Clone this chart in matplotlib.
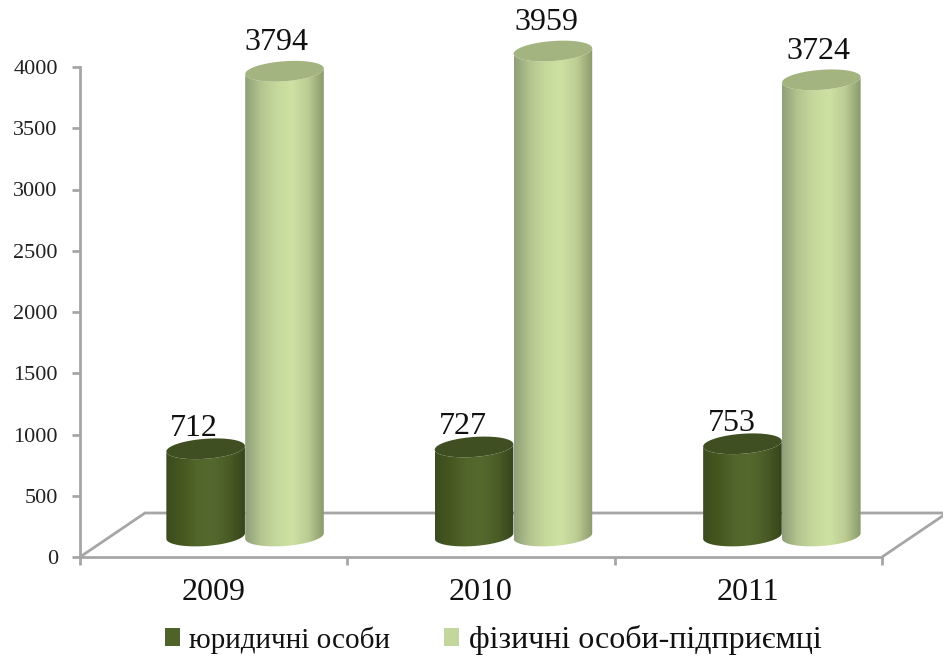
import numpy as np
import matplotlib
matplotlib.use("Agg")
import matplotlib.pyplot as plt
from matplotlib.colors import LinearSegmentedColormap
from matplotlib.patches import PathPatch, Patch, Polygon
from matplotlib.path import Path

years = ["2009", "2010", "2011"]
legal = [712, 727, 753]
individual = [3794, 3959, 3724]
names = ["юридичні особи", "фізичні особи-підприємці"]
yticks = [0, 500, 1000, 1500, 2000, 2500, 3000, 3500, 4000]

W, H = 943, 657
PX_X = 802 / 3       # pixels per category
PX_Y = 490 / 4000    # pixels per unit
BASE = 21 / PX_Y     # floor offset of the cylinder base
HALF = 39.3 / PX_X
MINOR = 10 / PX_Y
SHEAR = 0.07 * PX_X / PX_Y

# label nudges in px, the labels don't sit evenly over the cylinders
legal_dx = [-12, -11, -11]
indiv_dx = [-8, -6, -3]

plt.rcParams["font.family"] = ["Liberation Serif", "DejaVu Serif"]

fig = plt.figure(figsize=(W / 100, H / 100), dpi=100)
ax = fig.add_axes([80 / W, (H - 557) / H, 802 / W, 490 / H])
ax.set_xlim(0, 3)
ax.set_ylim(0, 4000)
ax.patch.set_alpha(0)

dark_cm = LinearSegmentedColormap.from_list(
    "dark", ["#3c4c20", "#46581f", "#52662c", "#54692e", "#4a5c26", "#36451c"])
light_cm = LinearSegmentedColormap.from_list(
    "light", ["#8f9f78", "#b4c58f", "#c6d99c", "#cde2a2", "#bccd93", "#8a9a6c"])
grad = np.linspace(0, 1, 128).reshape(1, -1)


def arc(cx, cy, t):
    return (cx + HALF * np.cos(t),
            cy + MINOR * np.sin(t) + SHEAR * HALF * np.cos(t))


def cylinder(cx, value, cmap, cap, z):
    bottom = BASE
    top = BASE + value
    t = np.linspace(np.pi, 2 * np.pi, 60)
    bx, by = arc(cx, bottom, t)
    tx, ty = arc(cx, top, t[::-1])
    body = np.column_stack([np.r_[bx, tx], np.r_[by, ty]])
    im = ax.imshow(grad, cmap=cmap, aspect="auto", zorder=z,
                   extent=[cx - HALF, cx + HALF, 0, top + MINOR * 2])
    p = Polygon(body, closed=True, transform=ax.transData, fc="none", ec="none")
    ax.add_patch(p)
    im.set_clip_box(fig.bbox)
    im.set_clip_path(p)
    t = np.linspace(0, 2 * np.pi, 120)
    ex, ey = arc(cx, top, t)
    ax.fill(ex, ey, color=cap, lw=0, zorder=z + 0.1, clip_on=False)


# floor
dx = 65 / PX_X
dy = 44 / PX_Y
floor = [(0, 0), (dx, dy), (3 + dx, dy), (3, 0)]
ax.add_patch(PathPatch(Path(floor), fc="none", ec="#a6a6a6", lw=2, zorder=1,
                       clip_on=False))

for i in range(3):
    cx_d = i + 0.47 + 0.004 * i
    cx_l = i + 0.765 + 0.004 * i
    cylinder(cx_d, legal[i], dark_cm, "#404f22", 3)
    cylinder(cx_l, individual[i], light_cm, "#a3b480", 4)
    ax.text(cx_d + legal_dx[i] / PX_X, legal[i] + BASE + 13 / PX_Y, str(legal[i]),
            ha="center", va="baseline", fontsize=23, color="#111111", zorder=6,
            clip_on=False)
    ax.text(cx_l + indiv_dx[i] / PX_X, individual[i] + BASE + 21 / PX_Y,
            str(individual[i]), ha="center", va="baseline", fontsize=23,
            color="#111111", zorder=6, clip_on=False)

ax.set_xlim(0, 3)
ax.set_ylim(0, 4000)

for s in ["top", "right"]:
    ax.spines[s].set_visible(False)
for s in ["left", "bottom"]:
    ax.spines[s].set_color("#a6a6a6")
    ax.spines[s].set_linewidth(2)
    ax.spines[s].set_zorder(2)

ax.set_yticks(yticks)
ax.set_yticklabels([str(v) for v in yticks], fontsize=16, color="#222222")
ax.set_xticks([0, 1, 2, 3])
ax.set_xticklabels([])
ax.tick_params(axis="both", color="#a6a6a6", width=2, length=6)
ax.tick_params(axis="y", pad=10)
for i, y in enumerate(years):
    ax.annotate(y, (i + 0.5, 0), xytext=(0, -43 * 0.72), textcoords="offset points",
                ha="center", va="baseline", fontsize=23, color="#111111")

handles = [Patch(fc="#4f6228", ec="none"), Patch(fc="#c3d69b", ec="none")]
leg = fig.legend(handles, names, loc="center", bbox_to_anchor=(493 / W, (H - 640) / H),
                 ncol=2, frameon=False, fontsize=22, handlelength=0.5, handleheight=0.5,
                 handletextpad=0.3, columnspacing=1.77, borderpad=0, labelcolor="#111111")
leg.get_texts()[0].set_fontsize(21)
leg.get_texts()[1].set_fontsize(23)

fig.savefig("out.png", dpi=100)
